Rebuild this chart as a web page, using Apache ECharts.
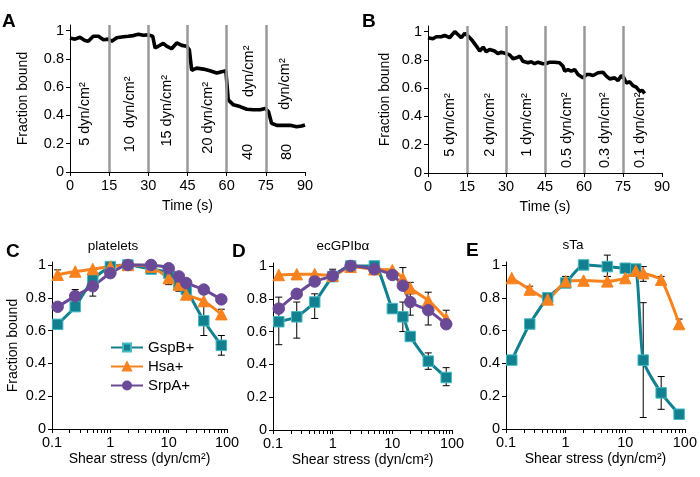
<!DOCTYPE html>
<html>
<head>
<meta charset="utf-8">
<script src="https://cdn.jsdelivr.net/npm/echarts@6/dist/echarts.min.js"></script>
<style>
  html, body { margin: 0; padding: 0; background: #fff; }
  #chart { width: 700px; height: 477px; }
</style>
</head>
<body>
<div id="chart"></div>
<script>
// A: binding over time as shear steps up
const timeA = [0, 1.9, 3.8, 5.7, 7.0, 8.9, 10.9, 12.8, 14.7, 16.0, 17.9, 19.8, 22.3, 24.3, 26.2, 28.1, 30.0, 31.7, 32.6, 33.8,
  35.7, 37.0, 38.9, 40.9, 42.8, 44.7, 45.7, 46.6, 48.5, 51.1, 53.6, 56.2, 58.1, 59.7, 60.6, 62.6, 65.1, 67.7, 70.2, 72.8,
  74.7, 76.0, 77.2, 79.2, 81.7, 84.3, 86.8, 88.7, 90]
const fracA = [0.948, 0.94, 0.953, 0.93, 0.925, 0.96, 0.96, 0.936, 0.94, 0.925, 0.95, 0.955, 0.96, 0.965, 0.975, 0.967, 0.97, 0.96, 0.877, 0.89,
  0.91, 0.89, 0.872, 0.913, 0.896, 0.89, 0.865, 0.72, 0.735, 0.728, 0.716, 0.70, 0.71, 0.716, 0.51, 0.475, 0.463, 0.444, 0.44, 0.44,
  0.45, 0.428, 0.345, 0.33, 0.33, 0.33, 0.32, 0.325, 0.333]

// B: binding over time as shear steps down
const timeB = [0, 1.9, 3.2, 5.1, 6.4, 8.3, 9.0, 10.3, 11.5, 12.8, 14.1, 15.0, 16.7, 18.6, 19.9, 21.2, 22.4, 23.7, 25.6, 26.9,
  28.2, 30.1, 31.4, 32.7, 34.0, 35.3, 36.5, 38.5, 39.7, 41.0, 42.3, 44.2, 45.5, 46.8, 48.7, 50.6, 51.9, 52.6, 53.8, 55.1,
  56.4, 57.7, 59.6, 60.9, 62.2, 63.5, 65.4, 67.3, 68.6, 69.9, 71.8, 73.1, 74.4, 75.3, 76.3, 77.6, 78.8, 80.1, 81.4, 82.4, 83.3]
const fracB = [0.957, 0.95, 0.964, 0.964, 0.974, 0.957, 0.953, 1.0, 0.98, 0.957, 0.988, 0.976, 0.945, 0.898, 0.863, 0.891, 0.858, 0.874, 0.863, 0.844,
  0.855, 0.844, 0.836, 0.808, 0.815, 0.827, 0.791, 0.78, 0.787, 0.773, 0.784, 0.773, 0.775, 0.784, 0.784, 0.78, 0.756, 0.72, 0.732, 0.72,
  0.732, 0.697, 0.673, 0.697, 0.697, 0.69, 0.709, 0.713, 0.685, 0.666, 0.673, 0.654, 0.69, 0.673, 0.637, 0.645, 0.618, 0.607, 0.578, 0.585, 0.562]

const stepTimes = [15, 30, 45, 60, 75]
const yTicks = [0, 0.2, 0.4, 0.6, 0.8, 1]

// rotated step labels: [time, fraction at text start, text]
const stepLabelsA = [[5.7, 0.185, '5 dyn/cm²'], [23, 0.14, '10  dyn/cm²'], [37.2, 0.18, '15 dyn/cm²'], [52.9, 0.13, '20 dyn/cm²'],
  [68.2, 0.085, '40'], [68.4, 0.53, 'dyn/cm²'], [83.1, 0.085, '80'], [82.5, 0.44, 'dyn/cm²']]
const stepLabelsB = [[8.5, 0.115, '5 dyn/cm²'], [23.8, 0.115, '2 dyn/cm²'], [38, 0.115, '1 dyn/cm²'],
  [53.5, 0.035, '0.5 dyn/cm²'], [68, 0.035, '0.3 dyn/cm²'], [81.5, 0.035, '0.1 dyn/cm²']]

// C-E: fraction bound vs shear stress
const shear = [0.125, 0.25, 0.5, 1, 2, 5, 10, 15, 20, 40, 80]
const gspbC = [0.638, 0.746, 0.91, 0.99, 1.0, 0.975, 0.95, 0.88, 0.85, 0.66, 0.51]
const hsaC = [0.94, 0.96, 0.975, 0.99, 1.0, 0.99, 0.92, 0.88, 0.82, 0.78, 0.70]
const srpaC = [0.745, 0.81, 0.87, 0.95, 1.0, 1.0, 0.98, 0.93, 0.89, 0.85, 0.79]
const gspbD = [0.66, 0.69, 0.78, 0.935, 1.0, 1.0, 0.74, 0.69, 0.57, 0.42, 0.32]
const hsaD = [0.945, 0.95, 0.95, 0.94, 0.995, 0.98, 0.975, 0.925, 0.865, 0.79, 0.68]
const srpaD = [0.74, 0.83, 0.905, 0.94, 1.0, 0.98, 0.945, 0.88, 0.78, 0.73, 0.645]
const gspbE = [0.42, 0.64, 0.80, 0.89, 1.0, 0.99, 0.98, 0.975, 0.42, 0.22, 0.09]
const hsaE = [0.92, 0.85, 0.79, 0.9, 0.905, 0.9, 0.92, 0.965, 0.95, 0.91, 0.64]

// error bars: [shear, low, high]
const errC = [[0.125, 0.91, 0.97], [0.25, 0.77, 0.85], [0.5, 0.81, 0.90], [10, 0.88, 0.95], [15, 0.84, 0.92],
  [20, 0.79, 0.88], [40, 0.57, 0.75], [80, 0.45, 0.57], [80, 0.68, 0.73]]
const errD = [[0.125, 0.52, 0.81], [0.25, 0.56, 0.78], [0.5, 0.68, 0.83], [1, 0.92, 0.98], [15, 0.60, 0.78], [15, 0.90, 0.99],
  [20, 0.83, 0.90], [20, 0.70, 0.85], [40, 0.64, 0.84], [40, 0.37, 0.47], [80, 0.27, 0.38], [80, 0.65, 0.73]]
const errE = [[0.25, 0.82, 0.87], [1, 0.87, 0.93], [5, 0.93, 1.06], [5, 0.88, 0.93], [20, 0.07, 0.77], [20, 0.90, 0.99],
  [40, 0.12, 0.32], [40, 0.89, 0.93], [80, 0.62, 0.67]]

const logTicks = [0.1, 0.2, 0.3, 0.4, 0.5, 0.6, 0.7, 0.8, 0.9, 1, 2, 3, 4, 5, 6, 7, 8, 9,
  10, 20, 30, 40, 50, 60, 70, 80, 90, 100]
const logLabels = [0.1, 1, 10, 100]

const FONT = 'Liberation Sans'
const TEAL = '#13808f'
const ORANGE = '#f7821e'
const PURPLE = '#6a4a96'

const zip = (xs, ys) => xs.map((x, i) => [x, ys[i]])

const axisBase = {
  axisLine: { show: true, onZero: false, lineStyle: { color: '#000', width: 1 } },
  axisTick: { show: true, length: 4, lineStyle: { color: '#000' } },
  axisLabel: { color: '#000', fontSize: 14.5, fontFamily: FONT, margin: 6 },
  splitLine: { show: false },
  nameTextStyle: { color: '#000', fontSize: 14, fontFamily: FONT },
}

function timeAxis (gridIndex) {
  return {
    ...axisBase,
    type: 'value', gridIndex, min: 0, max: 90, interval: 15,
    name: 'Time (s)', nameLocation: 'middle', nameGap: 27,
  }
}

function fracAxis (gridIndex, max, name, gap) {
  return {
    ...axisBase,
    type: 'value', gridIndex, min: 0, max,
    axisLabel: { ...axisBase.axisLabel, customValues: yTicks },
    axisTick: { ...axisBase.axisTick, customValues: yTicks },
    name, nameLocation: 'middle', nameGap: gap,
  }
}

function shearAxis (gridIndex) {
  return {
    ...axisBase,
    type: 'log', logBase: 10, gridIndex, min: 0.1, max: 100, position: 'bottom',
    axisLabel: { ...axisBase.axisLabel, customValues: logLabels },
    axisTick: { ...axisBase.axisTick, length: 4, customValues: logTicks },
    name: 'Shear stress (dyn/cm²)', nameLocation: 'middle', nameGap: 23,
  }
}

function trace (idx, xs, ys) {
  return {
    type: 'line', xAxisIndex: idx, yAxisIndex: idx,
    data: zip(xs, ys), showSymbol: false, symbol: 'none',
    lineStyle: { color: '#000', width: 3.6 }, z: 3, silent: true,
    markLine: {
      silent: true, symbol: 'none', label: { show: false },
      lineStyle: { color: '#999', width: 2.5, type: 'solid' },
      data: stepTimes.map(t => ({ xAxis: t })),
    },
  }
}

const styles = {
  'GspB+': { color: TEAL, symbol: 'rect', symbolSize: 10.5, borderColor: '#43b9c4' },
  'Hsa+': { color: ORANGE, symbol: 'triangle', symbolSize: 11.5, borderColor: ORANGE },
  'SrpA+': { color: PURPLE, symbol: 'circle', symbolSize: 11.5, borderColor: PURPLE },
}

function curve (idx, name, ys) {
  const s = styles[name]
  return {
    type: 'line', name, xAxisIndex: idx, yAxisIndex: idx,
    data: zip(shear, ys), smooth: 0.2,
    symbol: s.symbol, symbolSize: s.symbolSize, showSymbol: true,
    lineStyle: { color: s.color, width: 3 },
    itemStyle: { color: s.color, borderColor: s.borderColor, borderWidth: 1 },
    z: 4,
  }
}

function errorBars (idx, data) {
  return {
    type: 'custom', xAxisIndex: idx, yAxisIndex: idx, data, z: 2, silent: true,
    encode: { x: 0, y: [1, 2] },
    renderItem (params, api) {
      const lo = api.coord([api.value(0), api.value(1)])
      const hi = api.coord([api.value(0), api.value(2)])
      const w = 3.5
      const st = { stroke: '#000', lineWidth: 1 }
      return {
        type: 'group',
        children: [
          { type: 'line', shape: { x1: lo[0], y1: lo[1], x2: hi[0], y2: hi[1] }, style: st },
          { type: 'line', shape: { x1: lo[0] - w, y1: lo[1], x2: lo[0] + w, y2: lo[1] }, style: st },
          { type: 'line', shape: { x1: hi[0] - w, y1: hi[1], x2: hi[0] + w, y2: hi[1] }, style: st },
        ],
      }
    },
  }
}

const chart = echarts.init(document.getElementById('chart'))

const option = {
  animation: false,
  backgroundColor: '#fff',
  textStyle: { fontFamily: FONT },
  grid: [
    { left: 70, top: 25, width: 235, height: 147 },
    { left: 428, top: 26, width: 234, height: 147 },
    { left: 52, top: 262, width: 175, height: 167 },
    { left: 273, top: 263, width: 179, height: 167 },
    { left: 506, top: 262, width: 182, height: 167 },
  ],
  xAxis: [
    timeAxis(0), timeAxis(1),
    shearAxis(2), shearAxis(3), shearAxis(4),
  ],
  yAxis: [
    fracAxis(0, 1.04, 'Fraction bound', 40),
    fracAxis(1, 1.04, 'Fraction bound', 36),
    fracAxis(2, 1.018, 'Fraction bound', 32),
    fracAxis(3, 1.018, '', 30),
    fracAxis(4, 1.018, '', 30),
  ],
  legend: {
    data: ['GspB+', 'Hsa+', 'SrpA+'],
    orient: 'vertical', left: 105, top: 335,
    itemWidth: 32, itemHeight: 10, itemGap: 4,
    textStyle: { color: '#000', fontSize: 15, fontFamily: FONT },
  },
  series: [
    trace(0, timeA, fracA),
    trace(1, timeB, fracB),
    errorBars(2, errC), errorBars(3, errD), errorBars(4, errE),
    curve(2, 'GspB+', gspbC), curve(2, 'Hsa+', hsaC), curve(2, 'SrpA+', srpaC),
    curve(3, 'GspB+', gspbD), curve(3, 'Hsa+', hsaD), curve(3, 'SrpA+', srpaD),
    curve(4, 'GspB+', gspbE), curve(4, 'Hsa+', hsaE),
  ],
}

chart.setOption(option)

// place rotated step labels and panel titles once the grids exist
function rotated (grid, [t, v, text]) {
  const [x, y] = chart.convertToPixel({ xAxisIndex: grid, yAxisIndex: grid }, [t, v])
  return {
    type: 'text', x, y, rotation: Math.PI / 2, silent: true,
    style: { text, fill: '#000', font: `14.5px "${FONT}"`, align: 'left', verticalAlign: 'middle' },
  }
}

function plain (x, y, text, font, align) {
  return {
    type: 'text', x, y, silent: true,
    style: { text, fill: '#000', font, align: align || 'center', verticalAlign: 'middle' },
  }
}

const letterFont = `bold 19px "${FONT}"`
const titleFont = `13.5px "${FONT}"`

chart.setOption({
  graphic: [
    ...stepLabelsA.map(l => rotated(0, l)),
    ...stepLabelsB.map(l => rotated(1, l)),
    plain(2, 22, 'A', letterFont, 'left'),
    plain(362, 22, 'B', letterFont, 'left'),
    plain(6, 252, 'C', letterFont, 'left'),
    plain(232, 252, 'D', letterFont, 'left'),
    plain(466, 251, 'E', letterFont, 'left'),
    plain(113, 246, 'platelets', titleFont),
    plain(343, 246, 'ecGPIbα', titleFont),
    plain(573, 245, 'sTa', titleFont),
  ],
})
</script>
</body>
</html>
